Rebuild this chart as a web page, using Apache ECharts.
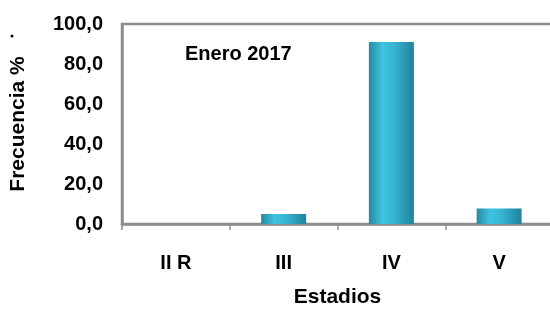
<!DOCTYPE html>
<html>
<head>
<meta charset="utf-8">
<script src="https://cdn.jsdelivr.net/npm/echarts@6/dist/echarts.min.js"></script>
<style>
  html, body { margin: 0; padding: 0; background: #fff; }
  #chart { width: 550px; height: 310px; }
</style>
</head>
<body>
<div id="chart"></div>
<script>
// datos del gráfico
const estadios = ['II R', 'III', 'IV', 'V']
const frecuencia = [0, 5.0, 91.0, 7.8]
const yTicks = [0, 20, 40, 60, 80, 100]

const font = 'Liberation Sans, Arial, sans-serif'
const gris = '#8c8c8c'

const chart = echarts.init(document.getElementById('chart'))

// barra con degradado horizontal (efecto cilindro)
const barColor = new echarts.graphic.LinearGradient(0, 0, 1, 0, [
  { offset: 0, color: '#2589a3' },
  { offset: 0.3, color: '#3fc3df' },
  { offset: 0.55, color: '#35b6d3' },
  { offset: 1, color: '#21819a' }
])

chart.setOption({
  animation: false,
  grid: {
    left: 122,
    top: 24,
    right: -3,
    bottom: 86,
    containLabel: false,
    outerBoundsMode: 'none',
    show: true,
    borderColor: gris,
    borderWidth: 2.5,
    backgroundColor: 'transparent'
  },
  title: {
    text: 'Enero 2017',
    left: 180,
    top: 39,
    textStyle: { fontFamily: font, fontSize: 20, fontWeight: 'bold', color: '#000' }
  },
  xAxis: {
    type: 'category',
    data: estadios,
    name: 'Estadios',
    nameLocation: 'middle',
    nameGap: 63,
    nameTextStyle: { fontFamily: font, fontSize: 21, fontWeight: 'bold', color: '#000' },
    axisLine: { lineStyle: { color: gris, width: 2.5 } },
    axisTick: { show: true, length: 6, lineStyle: { color: gris, width: 1.5 } },
    axisLabel: { fontFamily: font, fontSize: 20, fontWeight: 'bold', color: '#000', margin: 29 }
  },
  yAxis: {
    type: 'value',
    min: yTicks[0],
    max: yTicks[yTicks.length - 1],
    interval: 20,
    name: 'Frecuencia %',
    nameLocation: 'middle',
    nameGap: 93,
    nameRotate: 90,
    nameTextStyle: { fontFamily: font, fontSize: 21, fontWeight: 'bold', color: '#000' },
    axisLine: { show: true, lineStyle: { color: gris, width: 2.5 } },
    axisTick: { show: false },
    splitLine: { show: false },
    axisLabel: {
      fontFamily: font, fontSize: 20, fontWeight: 'bold', color: '#000', margin: 19,
      formatter: v => v.toFixed(1).replace('.', ',')
    }
  },
  graphic: [
    { type: 'circle', shape: { cx: 12, cy: 36, r: 1.5 }, style: { fill: '#000' } }
  ],
  series: [
    {
      type: 'bar',
      data: frecuencia,
      barWidth: 45,
      itemStyle: {
        color: barColor,
        borderColor: '#1f7c93',
        borderWidth: 0
      }
    }
  ]
})
</script>
</body>
</html>
